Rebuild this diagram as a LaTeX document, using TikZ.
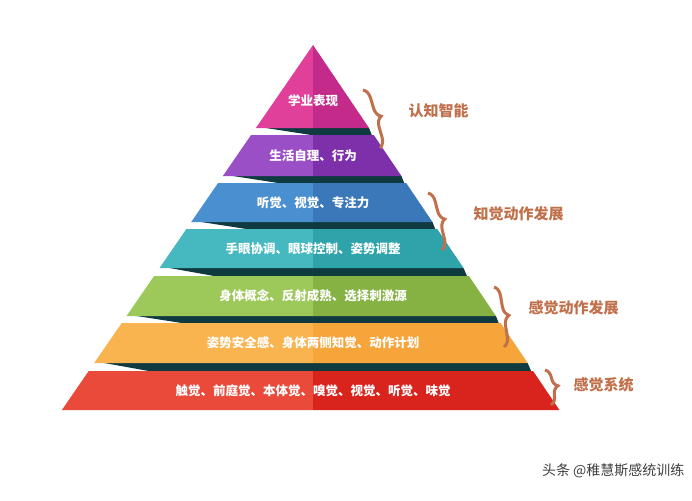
\documentclass[tikz,border=0pt]{standalone}
\usepackage{fontspec}
\newfontfamily\cjk{Noto Sans CJK SC}
\usetikzlibrary{decorations.pathreplacing}
\definecolor{shd}{HTML}{0E3A40}
\definecolor{brc}{HTML}{C0704A}
\tikzset{lay/.style={font=\cjk\bfseries\fontsize{12.5}{14}\selectfont,text=white},
 lab/.style={font=\cjk\bfseries\fontsize{15}{17}\selectfont,text=brc,anchor=west},
 br/.style={draw=brc,line width=3pt,decorate,decoration={brace,amplitude=10pt}}}
\begin{document}
\begin{tikzpicture}[x=1pt,y=-1pt]
\fill[white] (0,0) rectangle (692,500);
\useasboundingbox (0,0) rectangle (692,500);
\def\xl#1{313-0.688*(#1-45)}
\def\xr#1{313+0.675*(#1-45)}
% shadows
\foreach \b/\t in {128/135,176/183,222/229,268/276,316/323,363/371}{
 \fill[shd] ({\xl{\b}+10},\b)--({\xr{\b}},\b)--({\xr{\t}-2},\t)--({\xl{\t}+60},\t)--cycle;}
% layers
\foreach \t/\b/\cl/\cr/\nm in {135/176/9B4FC6/7E2FAA/p,183/222/4A8FD0/3A78BA/bl,229/268/45B8C0/2EA3AA/te,276/316/9DC85A/86B244/gr,323/363/F9B450/F6A53A/or,371/410/E94A3A/D8241C/re}{
 \definecolor{cl}{HTML}{\cl}\definecolor{cr}{HTML}{\cr}
 \fill[cl] ({\xl{\t}},\t)--(313,\t)--(313,\b)--({\xl{\b}},\b)--cycle;
 \fill[cr] (313,\t)--({\xr{\t}},\t)--({\xr{\b}},\b)--(313,\b)--cycle;
 \coordinate (\nm) at (313,{(\t+\b)/2});}
\definecolor{cl}{HTML}{E0409A}\definecolor{cr}{HTML}{C42A8A}
\fill[cl] (313,45)--(313,128)--({\xl{128}},128)--cycle;
\fill[cr] (313,45)--(313,128)--({\xr{128}},128)--cycle;
\node[lay] (t1) at (313,101) {学业表现};
\node[lay] (t2) at (p) {生活自理、行为};
\node[lay] (t3) at (bl) {听觉、视觉、专注力};
\node[lay] (t4) at (te) {手眼协调、眼球控制、姿势调整};
\node[lay] (t5) at (gr) {身体概念、反射成熟、选择刺激源};
\node[lay] (t6) at (or) {姿势安全感、身体两侧知觉、动作计划};
\node[lay] (t7) at (re) {触觉、前庭觉、本体觉、嗅觉、视觉、听觉、味觉};
% braces
\draw[br] (363,90)--(380,148);
\draw[br] (428,193)--(442,250);
\draw[br] (494,287)--(504,347);
\draw[br] (545,370)--(551,405);
\node[lab] (l1) at (405,111) {认知智能};
\node[lab] (l2) at (470,214) {知觉动作发展};
\node[lab] (l3) at (525,308) {感觉动作发展};
\node[lab] (l4) at (570,385) {感觉系统};
\node[font=\cjk\fontsize{14}{16}\selectfont,text=black!75,anchor=east] (wm) at (688,471) {头条 @稚慧斯感统训练};
\end{tikzpicture}
\end{document}
